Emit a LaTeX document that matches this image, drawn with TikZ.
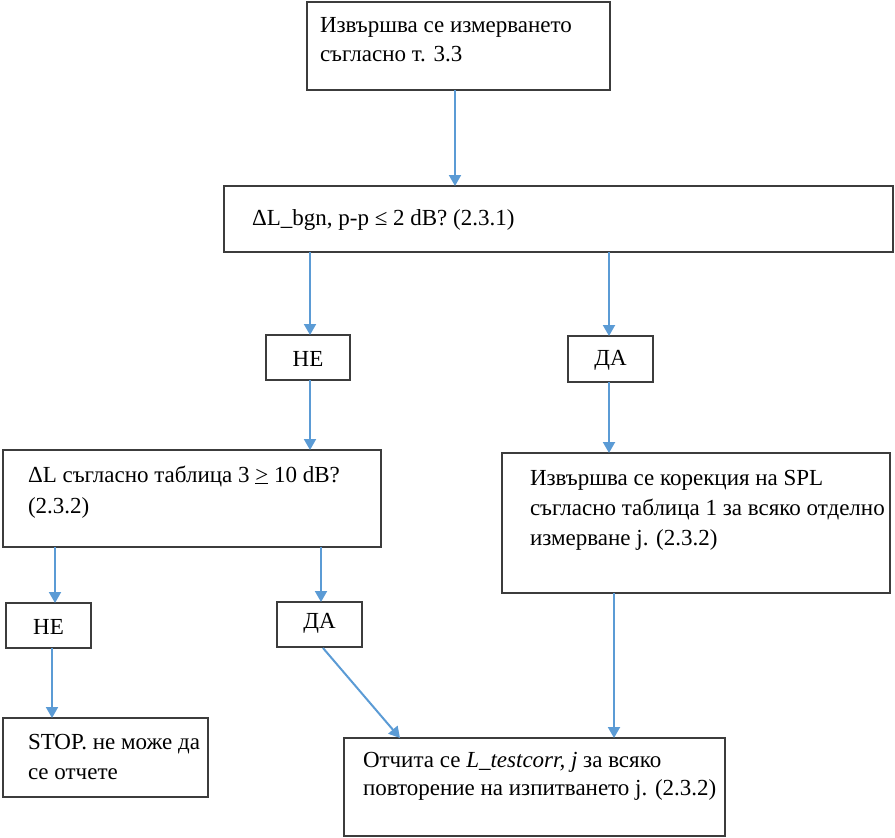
\documentclass[tikz,border=0pt]{standalone}
\usepackage{fontspec}
\setmainfont{Liberation Serif}
\usetikzlibrary{arrows.meta,calc}
\definecolor{arrblue}{HTML}{5B9BD5}
\definecolor{boxgray}{HTML}{3C3C3C}
\tikzset{
  box/.style={draw=boxgray, line width=1.8pt, fill=white, inner sep=0pt, outer sep=0pt, anchor=north west},
  txt/.style={inner sep=0pt, outer sep=0pt, anchor=base west, font=\fontsize{23}{28}\selectfont},
  ctxt/.style={inner sep=0pt, outer sep=0pt, anchor=center, font=\fontsize{23}{28}\selectfont},
  arr/.style={draw=arrblue, line width=2pt, -{Triangle[length=11pt,width=12pt]}}
}
\begin{document}
\begin{tikzpicture}[x=1pt,y=-1pt]
\useasboundingbox (0,0) rectangle (895,838);
% boxes
\node[box, minimum width=303pt, minimum height=88pt] (b1) at (307,2) {};
\node[box, minimum width=669pt, minimum height=66pt] (b2) at (224,186) {};
\node[box, minimum width=84pt, minimum height=45pt] (ne1) at (266,335) {};
\node[box, minimum width=85pt, minimum height=46pt] (da1) at (568,336) {};
\node[box, minimum width=378pt, minimum height=97pt] (b3) at (3,450) {};
\node[box, minimum width=388pt, minimum height=140pt] (b4) at (502,453) {};
\node[box, minimum width=85pt, minimum height=45pt] (ne2) at (6,603) {};
\node[box, minimum width=85pt, minimum height=45pt] (da2) at (277,602) {};
\node[box, minimum width=205pt, minimum height=79pt] (stop) at (3,718) {};
\node[box, minimum width=381pt, minimum height=98pt] (fin) at (344,738) {};
% texts
\node[txt] (t1a) at (320,32) {Извършва се измерването};
\node[txt] (t1b) at (320,61) {съгласно т. 3.3};
\node[txt] (t2) at (252,225) {ΔL\_bgn, p-p ≤ 2 dB? (2.3.1)};
\node[ctxt] (tne1) at ($(ne1.center)+(0,1)$) {НЕ};
\node[ctxt] (tda1) at ($(da1.center)+(0,1)$) {ДА};
\node[txt] (t3a) at (28,482) {ΔL съгласно таблица 3 \underline{>}~10 dB?};
\node[txt] (t3b) at (28,513) {(2.3.2)};
\node[txt] (t4a) at (530,485) {Извършва се корекция на SPL};
\node[txt] (t4b) at (530,515) {съгласно таблица 1 за всяко отделно};
\node[txt] (t4c) at (530,545) {измерване j. (2.3.2)};
\node[ctxt] (tne2) at ($(ne2.center)+(0,1)$) {НЕ};
\node[ctxt] (tda2) at ($(da2.center)+(0,-1)$) {ДА};
\node[txt] (t5a) at (28,749) {STOP. не може да};
\node[txt] (t5b) at (28,779) {се отчете};
\node[txt] (t6a) at (363,767) {Отчита се \textit{L\_testcorr, j} за всяко};
\node[txt] (t6b) at (363,795) {повторение на изпитването j. (2.3.2)};
% helper x positions
\coordinate (x1) at (455,0);
\coordinate (x2) at (310,0);
\coordinate (x3) at (609,0);
\coordinate (x4) at (55,0);
\coordinate (x5) at (52,0);
\coordinate (x6) at (321,0);
\coordinate (x7) at (614,0);
\coordinate (dS) at (323,648);
\coordinate (dE) at (400,738);
% connectors
\draw[arr] (b1.south -| x1) -- (b2.north -| x1);
\draw[arr] (b2.south -| x2) -- (ne1.north -| x2);
\draw[arr] (b2.south -| x3) -- (da1.north -| x3);
\draw[arr] (ne1.south -| x2) -- (b3.north -| x2);
\draw[arr] (da1.south -| x3) -- (b4.north -| x3);
\draw[arr] (b3.south -| x4) -- (ne2.north -| x4);
\draw[arr] (ne2.south -| x5) -- (stop.north -| x5);
\draw[arr] (b3.south -| x6) -- (da2.north -| x6);
\draw[arr] (dS) -- (dE);
\draw[arr] (b4.south -| x7) -- (fin.north -| x7);
\end{tikzpicture}
\end{document}
